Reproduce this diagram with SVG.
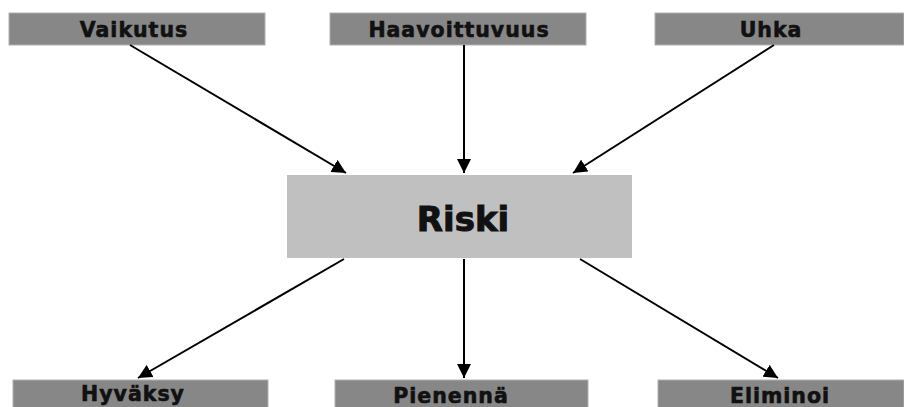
<svg xmlns="http://www.w3.org/2000/svg" width="904" height="407" viewBox="0 0 904 407">
  <style>
    .box { fill: #878787; stroke: #b0b0b0; stroke-width: 1; }
    .core { fill: #c0c0c0; }
    .lbl { font-family: "DejaVu Sans", "Liberation Sans", sans-serif; font-weight: bold; font-size: 20.5px; letter-spacing: 1px; fill: #111; stroke: #111; stroke-width: 0.6; text-anchor: middle; }
    .big { font-family: "DejaVu Sans", "Liberation Sans", sans-serif; font-weight: bold; font-size: 34px; fill: #111; stroke: #111; stroke-width: 1; text-anchor: middle; }
    .edge { stroke: #000; stroke-width: 2; fill: none; marker-end: url(#head); }
  </style>
  <defs>
    <marker id="head" viewBox="0 0 10 10" refX="10" refY="5" markerWidth="14" markerHeight="14" markerUnits="userSpaceOnUse" orient="auto">
      <path d="M0,0 L10,5 L0,10 z" fill="#000"/>
    </marker>
  </defs>
  <rect width="904" height="407" fill="#fff"/>

  <g id="vaikutus">
    <rect class="box" x="9" y="13" width="256" height="32"/>
    <text class="lbl" x="134" y="37">Vaikutus</text>
  </g>
  <g id="haavoittuvuus">
    <rect class="box" x="330" y="13" width="256" height="32"/>
    <text class="lbl" x="459" y="37">Haavoittuvuus</text>
  </g>
  <g id="uhka">
    <rect class="box" x="655" y="13" width="249" height="32"/>
    <text class="lbl" x="771" y="37">Uhka</text>
  </g>

  <g id="riski">
    <rect class="core" x="287" y="175" width="345" height="83"/>
    <text class="big" x="463" y="231">Riski</text>
  </g>

  <g id="hyvaksy">
    <rect class="box" x="13" y="380" width="255" height="30"/>
    <text class="lbl" x="133" y="401">Hyväksy</text>
  </g>
  <g id="pienenna">
    <rect class="box" x="335" y="380" width="253" height="30"/>
    <text class="lbl" x="451" y="403">Pienennä</text>
  </g>
  <g id="eliminoi">
    <rect class="box" x="658" y="380" width="246" height="30"/>
    <text class="lbl" x="780" y="403">Eliminoi</text>
  </g>

  <g id="connectors">
    <line class="edge" x1="130" y1="45" x2="346" y2="173"/>
    <line class="edge" x1="464" y1="45" x2="464" y2="173"/>
    <line class="edge" x1="774" y1="45" x2="573" y2="173"/>
    <line class="edge" x1="344" y1="259" x2="138" y2="378"/>
    <line class="edge" x1="464" y1="259" x2="464" y2="378"/>
    <line class="edge" x1="580" y1="259" x2="778" y2="378"/>
  </g>
</svg>
